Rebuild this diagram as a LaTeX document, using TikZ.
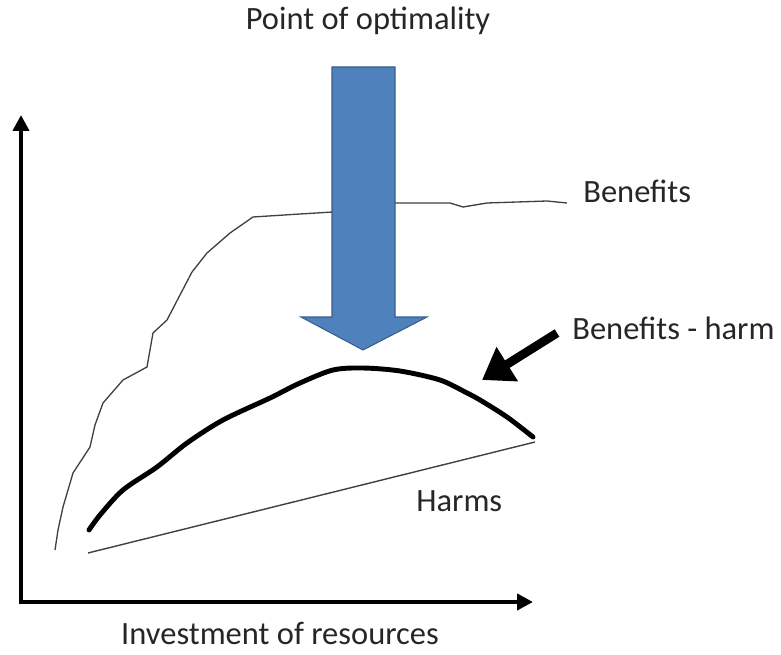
\documentclass[tikz,border=0pt]{standalone}
\usepackage{fontspec}
\setmainfont{Carlito}
\usetikzlibrary{
  arrows.meta,
  positioning
}
\definecolor{optblue}{HTML}{4F81BD}
\definecolor{optblueline}{HTML}{385D8A}
\tikzset{
  x=0.02cm,
  y=-0.02cm,
  % styles
  label text/.style={
    inner sep=0pt,
    font=\fontsize{18.5}{22}\selectfont,
    text=black!85,
  },
  axis/.style={
    line width=2.5pt,
    -{Triangle[length=9pt,width=9pt]},
  },
  thin curve/.style={
    draw=black!75,
    line width=0.75pt,
    line join=round,
  },
  net curve/.style={
    draw=black,
    line width=2.8pt,
    line cap=round,
    line join=round,
  },
  pointer/.style={
    line width=5pt,
    -{Triangle[length=17pt,width=22pt]},
  },
  block arrow/.style={
    fill=optblue,
    draw=optblueline,
    line width=0.6pt,
  }
}

\begin{document}
\begin{tikzpicture}
  \useasboundingbox (0,0) rectangle (781,655);

  % axes
  \coordinate (origin) at (21,602);
  \coordinate (ytip)   at (21,115);
  \coordinate (xtip)   at (533,602);
  \draw [axis] ([yshift=-1.2pt]origin) -- (ytip);
  \draw [axis] ([xshift=-1.2pt]origin) -- (xtip);

  % benefits
  \draw [thin curve] plot coordinates {
    (55,550) (58,530) (63,507) (73,473) (90,447) (95,425) (103,403)
    (123,380) (147,367) (150,350) (153,333) (167,320) (180,295)
    (192,272) (207,253) (230,233) (253,217) (300,214) (333,212)
    (395,203) (450,203) (463,207) (487,203) (547,201) (567,203)};

  % harms
  \coordinate (h0) at (88,553);
  \coordinate (h1) at (535,442);
  \draw [thin curve, line width=0.8pt] (h0) -- (h1);

  % benefits - harm
  \draw [net curve] plot [smooth, tension=0.5] coordinates {
    (89,530) (100,515) (123,490) (157,467) (187,443) (223,420)
    (270,398) (300,383) (333,370) (363,368) (400,371) (440,380)
    (467,393) (480,400) (507,417) (533,437)};

  % point of optimality
  \draw [block arrow] (332,67) -- (395,67) -- (395,317) -- (427,317)
    -- (363,350) -- (301,317) -- (332,317) -- cycle;

  % labels
  \node [label text, anchor=base] (title)   at (368,30)  {Point of optimality};
  \node [label text, anchor=base west] (benefits) at (583,203) {Benefits};
  \node [label text, anchor=base west] (net)      at (572,339) {Benefits - harm};
  \node [label text, anchor=base west] (harms)    at (416,511) {Harms};
  \node [label text, anchor=base] (xlabel)  at (280,644) {Investment of resources};

  \coordinate (ptip) at (482,380);
  \draw [pointer] (557,333) -- (ptip);
\end{tikzpicture}
\end{document}
